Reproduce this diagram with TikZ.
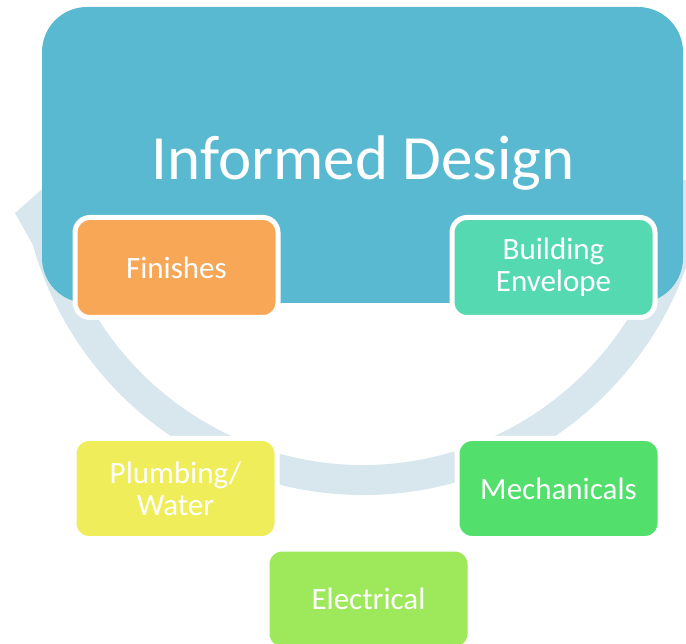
\documentclass[tikz,border=0pt]{standalone}
\usepackage{fontspec}
\setmainfont{Carlito}
\usepackage{tikz}
\usetikzlibrary{calc}
\usetikzlibrary{positioning}
\usepackage{xcolor}

\definecolor{designblue}{RGB}{88,185,208}
\definecolor{cyclegray}{RGB}{216,230,238}
\definecolor{finishorange}{RGB}{248,167,87}
\definecolor{envelopeteal}{RGB}{85,217,177}
\definecolor{plumbyellow}{RGB}{239,238,90}
\definecolor{mechgreen}{RGB}{82,223,107}
\definecolor{elecgreen}{RGB}{158,232,92}

\tikzset{
  stage/.style={draw=white, line width=5pt, rounded corners=15pt,
    minimum width=203pt, minimum height=100pt, inner sep=0pt,
    text=white, align=center, font=\fontsize{31}{32}\selectfont},
}

\begin{document}
\begin{tikzpicture}[x=1pt,y=-1pt]
\useasboundingbox (0,0) rectangle (686,644);
% cycle arrow behind the boxes
\coordinate (c) at (363,152);
\fill[cyclegray] ($(c)+(5:343)$) arc[start angle=5,end angle=164.3,radius=343]
  -- (15,213) -- (48,184) -- (80,236) -- ($(c)+(164.3:313)$)
  arc[start angle=164.3,end angle=5,radius=313] -- cycle;
% main box
\node[fill=designblue, rounded corners=45pt, minimum width=641pt, minimum height=296pt, inner sep=0pt] (design) at (362.5,155) {};
\node[text=white, font=\fontsize{63}{70}\selectfont, anchor=base] (title) at (363,180) {Informed Design};
% stages
\node[stage, fill=finishorange] (finishes) at (176.5,267.5) {Finishes};
\node[stage, fill=envelopeteal] (envelope) at (553.5,267.5) {Building\\Envelope};
\node[stage, fill=plumbyellow] (plumbing) at (175.5,488.5) {Plumbing/\\Water};
\node[stage, fill=mechgreen] (mechanicals) at (558.5,488.5) {Mechanicals};
\node[stage, fill=elecgreen] (electrical) at (368.5,599) {Electrical};
%\node[stage] (extra) at (0,0) {};
\end{tikzpicture}
\end{document}
